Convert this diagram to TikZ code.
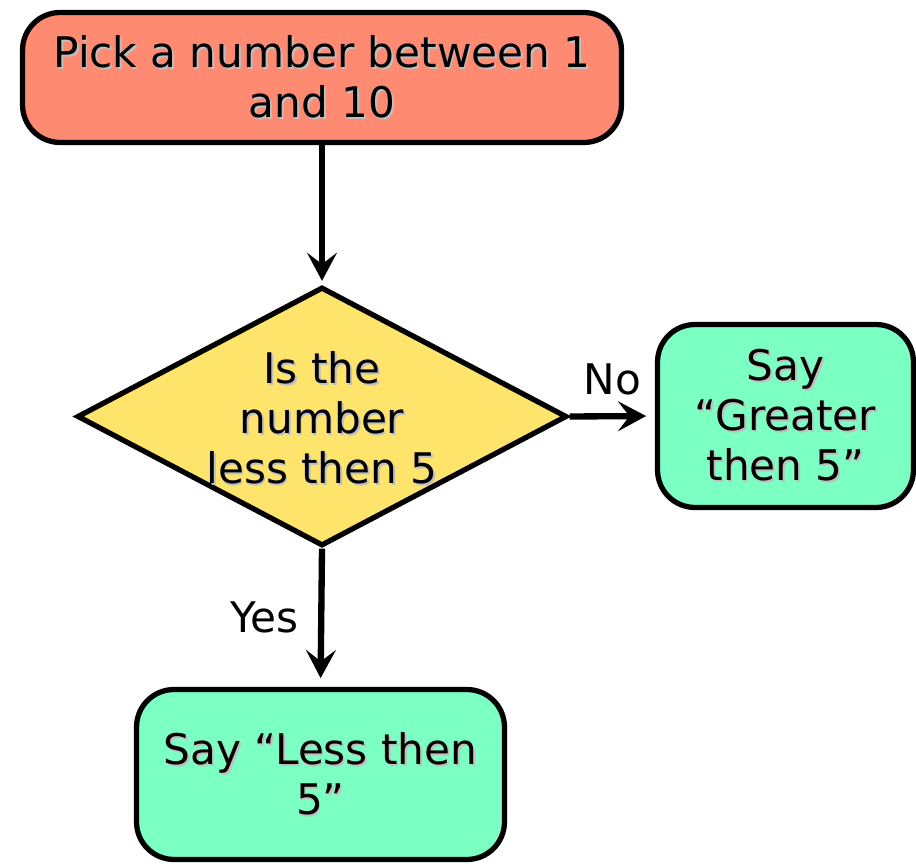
\documentclass[tikz,border=0pt]{standalone}
\usepackage{fontspec}
\setmainfont{DejaVu Sans}
\usetikzlibrary{shapes.geometric,arrows.meta}
\definecolor{startred}{HTML}{FF8A72}
\definecolor{askyellow}{HTML}{FFE46C}
\definecolor{saygreen}{HTML}{7BFFC2}
\newcommand{\shadowtext}[1]{\makebox[0pt][l]{\hspace{1pt}\raisebox{-1pt}{\color{black!25}#1}}#1}

\begin{document}
\begin{tikzpicture}[x=0.02cm,y=-0.02cm,
        every node/.style={font=\fontsize{24}{28.5}\selectfont},
        box/.style={draw, line width=3pt, rounded corners=0.75cm, align=center},
        flow/.style={line width=3.6pt, -{Stealth[length=16pt,width=17pt,inset=6.5pt]}}]
        \useasboundingbox (0,0) rectangle (916,864);
        \node[box, fill=startred, minimum width=11.98cm, minimum height=2.6cm] (pick) at (322,77.5)
            {\shadowtext{Pick a number between 1}\\\shadowtext{and 10}};
        \node[draw, diamond, line width=3pt, fill=askyellow, minimum width=9.8cm, minimum height=5.18cm, inner sep=0pt] (check) at (322,416.5) {};
        \node[align=center] (checktext) at (322,419)
            {\shadowtext{Is the}\\\shadowtext{number}\\\shadowtext{less then 5}};
        \node[box, fill=saygreen, minimum width=5.12cm, minimum height=3.66cm] (greater) at (785.5,416)
            {\shadowtext{Say}\\\shadowtext{“Greater}\\\shadowtext{then 5”}};
        \node[box, fill=saygreen, minimum width=7.36cm, minimum height=3.4cm] (less) at (320.5,774.5)
            {\shadowtext{Say “Less then}\\\shadowtext{5”}};
        \draw[flow, shorten >=2pt] (pick) -- (check);
        \draw[flow, shorten >=5pt] (check.east) -- (greater.west) node[midway, above=7pt] (no) {No};
        \draw[flow, shorten >=5pt] (check.south) -- (less.north) node[midway, left=8pt] (yes) {Yes};
    \end{tikzpicture}
\end{document}
